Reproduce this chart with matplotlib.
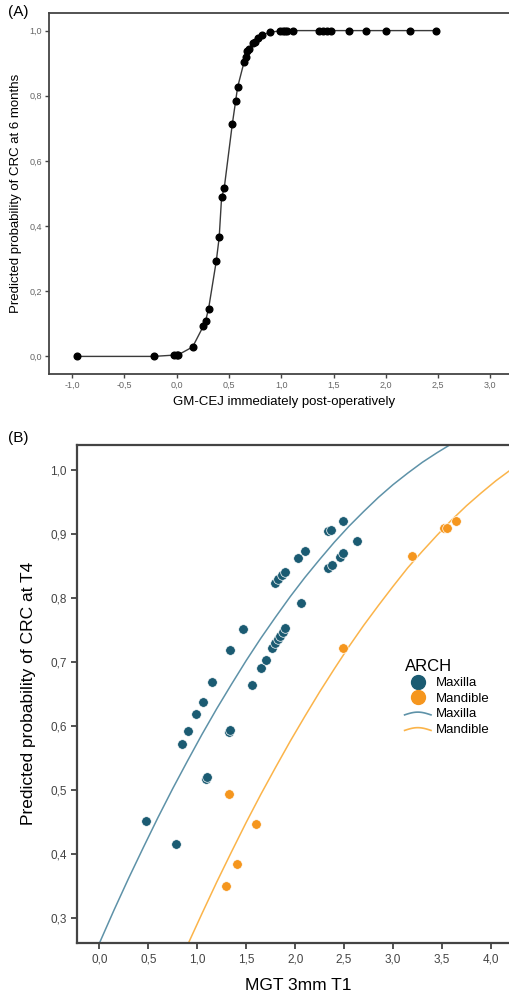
import matplotlib
matplotlib.use("Agg")
import matplotlib.pyplot as plt
import numpy as np
from matplotlib.legend_handler import HandlerBase
from matplotlib.lines import Line2D
from matplotlib.ticker import FuncFormatter, MultipleLocator

plt.rcParams["font.family"] = ["Liberation Sans", "DejaVu Sans"]

# Panel A: predicted probability vs GM-CEJ
gm_cej = [-0.950, -0.220, -0.023, 0.000, 0.016, 0.153, 0.254, 0.277, 0.306, 0.379,
          0.407, 0.430, 0.455, 0.532, 0.564, 0.583, 0.646, 0.660, 0.675, 0.688,
          0.727, 0.749, 0.774, 0.813, 0.892, 0.988, 1.013, 1.035, 1.057, 1.109,
          1.363, 1.396, 1.434, 1.475, 1.647, 1.813, 1.998, 2.228, 2.482]
prob_6m = [0.000, 0.000, 0.004, 0.004, 0.005, 0.029, 0.092, 0.109, 0.147, 0.292,
           0.365, 0.488, 0.516, 0.712, 0.783, 0.826, 0.905, 0.918, 0.936, 0.943,
           0.961, 0.966, 0.978, 0.986, 0.995, 0.999, 0.999, 1.000, 1.000, 1.000,
           1.000, 1.000, 1.000, 1.000, 1.000, 1.000, 1.000, 1.000, 1.000]

# Panel B: observed points by arch
maxilla_mgt = [0.474, 0.780, 0.845, 0.909, 0.988, 1.056, 1.154, 1.093, 1.100, 1.325,
               1.335, 1.338, 1.468, 1.560, 1.649, 1.700, 1.764, 1.798, 1.825, 1.849,
               1.873, 1.894, 2.060, 1.795, 1.829, 1.863, 1.897, 2.033, 2.101, 2.339,
               2.374, 2.459, 2.492, 2.339, 2.367, 2.492, 2.635]
maxilla_prob = [0.452, 0.416, 0.572, 0.592, 0.618, 0.637, 0.668, 0.517, 0.520, 0.590,
                0.594, 0.718, 0.752, 0.664, 0.690, 0.703, 0.721, 0.729, 0.735, 0.741,
                0.747, 0.753, 0.792, 0.823, 0.829, 0.836, 0.841, 0.863, 0.874, 0.846,
                0.851, 0.864, 0.870, 0.905, 0.906, 0.920, 0.889]
mandible_mgt = [1.297, 1.328, 1.410, 1.604, 2.492, 3.191, 3.521, 3.548, 3.640]
mandible_prob = [0.350, 0.493, 0.384, 0.447, 0.721, 0.866, 0.909, 0.910, 0.920]

# fitted curves
maxilla_fit_x = [0.0, 0.15, 0.3, 0.45, 0.6, 0.75, 0.9, 1.05, 1.2, 1.35, 1.5, 1.65, 1.8,
                 1.95, 2.1, 2.25, 2.4, 2.55, 2.7, 2.85, 3.0, 3.15, 3.3, 3.45, 3.6, 3.75]
maxilla_fit_y = [0.260, 0.312, 0.362, 0.410, 0.457, 0.502, 0.545, 0.587, 0.627, 0.665,
                 0.702, 0.737, 0.770, 0.802, 0.832, 0.860, 0.887, 0.912, 0.935, 0.957,
                 0.977, 0.995, 1.012, 1.027, 1.041, 1.052]
mandible_fit_x = [0.9, 1.05, 1.2, 1.35, 1.5, 1.65, 1.8, 1.95, 2.1, 2.25, 2.4, 2.55, 2.7,
                  2.85, 3.0, 3.15, 3.3, 3.45, 3.6, 3.75, 3.9, 4.05, 4.2, 4.35]
mandible_fit_y = [0.257, 0.307, 0.356, 0.403, 0.449, 0.493, 0.535, 0.576, 0.615, 0.653,
                  0.689, 0.724, 0.757, 0.788, 0.818, 0.847, 0.873, 0.898, 0.922, 0.944,
                  0.964, 0.983, 1.000, 1.016]

MAX_DOT = "#1b5b72"
MAN_DOT = "#f5961e"
MAX_LINE = "#5e92a8"
MAN_LINE = "#fbb44a"


def comma(v, _pos):
    return f"{v:.1f}".replace(".", ",")


class ArcHandler(HandlerBase):
    def create_artists(self, legend, orig_handle, xdescent, ydescent, width, height,
                       fontsize, trans):
        t = np.linspace(0, 1, 20)
        xs = -xdescent + width * t
        ys = -ydescent + height * (0.25 + 0.3 * np.sin(np.pi * t))
        line = Line2D(xs, ys, color=orig_handle.get_color(), lw=1.2, transform=trans)
        return [line]


fig = plt.figure(figsize=(5.09, 9.92), dpi=100)
W, H = 509, 992

# ---- Panel A ----
ax_a = fig.add_axes([49 / W, (H - 374) / H, 471 / W, 361 / H])
ax_a.plot(gm_cej, prob_6m, color="#3a3a3a", lw=1.0, marker="o", ms=4.8,
          mfc="black", mec="black", zorder=3)
ax_a.set_xlim(-1.22, 3.283)
ax_a.set_ylim(-0.054, 1.054)
ax_a.xaxis.set_major_locator(MultipleLocator(0.5))
ax_a.yaxis.set_major_locator(MultipleLocator(0.2))
ax_a.xaxis.set_major_formatter(FuncFormatter(comma))
ax_a.yaxis.set_major_formatter(FuncFormatter(comma))
ax_a.tick_params(labelsize=6.5, labelcolor="#666666", color="#444444", length=3,
                 width=1.0, pad=2)
for side in ["left", "bottom", "top", "right"]:
    ax_a.spines[side].set_color("#444444")
    ax_a.spines[side].set_linewidth(1.3)
ax_a.set_xlabel("GM-CEJ immediately post-operatively", fontsize=9.5, labelpad=4)
ax_a.set_ylabel("Predicted probability of CRC at 6 months", fontsize=9.5, labelpad=5)
fig.text(8 / W, 1 - 5 / H, "(A)", fontsize=11, va="top", ha="left")

# ---- Panel B ----
ax_b = fig.add_axes([77.3 / W, (H - 942.7) / H, 442.7 / W, 497.7 / H])
ax_b.plot(maxilla_fit_x, maxilla_fit_y, color=MAX_LINE, lw=1.1, zorder=2)
ax_b.plot(mandible_fit_x, mandible_fit_y, color=MAN_LINE, lw=1.1, zorder=2)
ax_b.scatter(maxilla_mgt, maxilla_prob, s=48, color=MAX_DOT, edgecolors="white",
             linewidths=0.5, zorder=3)
ax_b.scatter(mandible_mgt, mandible_prob, s=48, color=MAN_DOT, edgecolors="white",
             linewidths=0.5, zorder=3)
ax_b.set_xlim(-0.225, 4.297)
ax_b.set_ylim(0.261, 1.039)
ax_b.xaxis.set_major_locator(MultipleLocator(0.5))
ax_b.yaxis.set_major_locator(MultipleLocator(0.1))
ax_b.xaxis.set_major_formatter(FuncFormatter(comma))
ax_b.yaxis.set_major_formatter(FuncFormatter(comma))
ax_b.tick_params(labelsize=8.5, labelcolor="#444444", color="#444444", length=4.5,
                 width=1.3, pad=3)
for side in ["left", "bottom", "top", "right"]:
    ax_b.spines[side].set_color("#444444")
    ax_b.spines[side].set_linewidth(1.6)
ax_b.set_xlabel("MGT 3mm T1", fontsize=12.5, labelpad=9)
ax_b.set_ylabel("Predicted probability of CRC at T4", fontsize=12.5, labelpad=10)
fig.text(8 / W, 1 - 431 / H, "(B)", fontsize=11, va="top", ha="left")

handles = [
    Line2D([], [], ls="", marker="o", ms=10, color=MAX_DOT),
    Line2D([], [], ls="", marker="o", ms=10, color=MAN_DOT),
    Line2D([], [], color=MAX_LINE),
    Line2D([], [], color=MAN_LINE),
]
labels = ["Maxilla", "Mandible", "Maxilla", "Mandible"]
leg = ax_b.legend(handles, labels, title="ARCH", title_fontsize=12, fontsize=9.5,
                  frameon=False, loc="upper left", alignment="left",
                  bbox_to_anchor=(398 / W, 1 - 652 / H), bbox_transform=fig.transFigure,
                  handlelength=2.0, handletextpad=0.4, labelspacing=0.25, borderpad=0,
                  handler_map={handles[2]: ArcHandler(), handles[3]: ArcHandler()})

fig.savefig("out.png", dpi=100)
